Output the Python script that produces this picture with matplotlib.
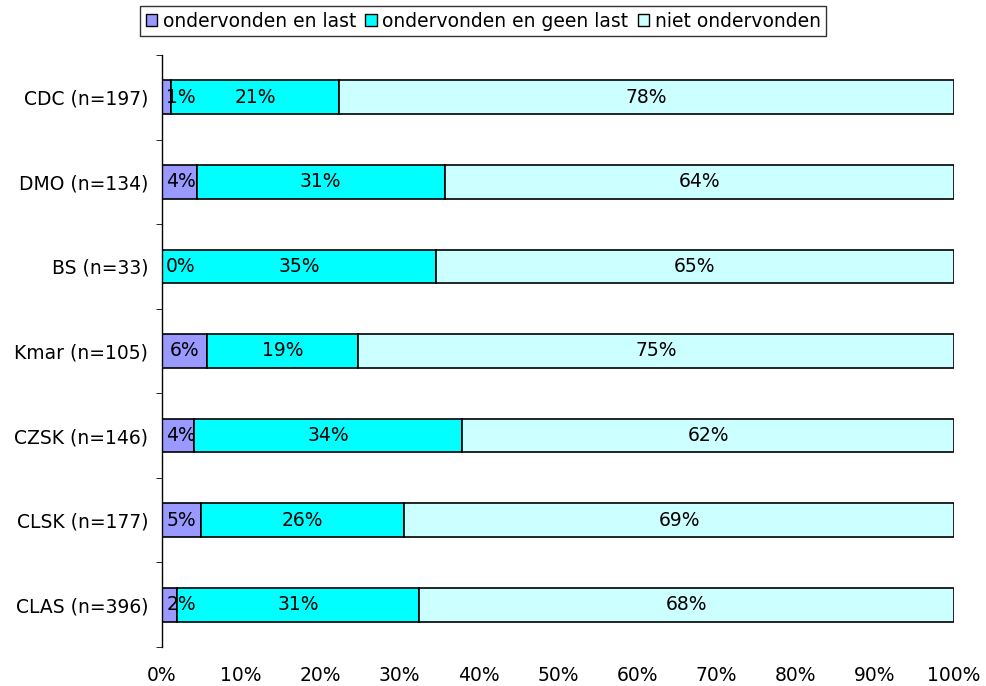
import matplotlib.pyplot as plt
from matplotlib.patches import Patch

# data (percentages per group, top to bottom as in the picture)
groups = ['CDC (n=197)', 'DMO (n=134)', 'BS (n=33)', 'Kmar (n=105)',
          'CZSK (n=146)', 'CLSK (n=177)', 'CLAS (n=396)']
last = [1.1, 4.4, 0.0, 5.7, 4.0, 4.9, 1.9]
geen_last = [21.3, 31.3, 34.6, 19.0, 33.9, 25.7, 30.6]
niet = [77.6, 64.3, 65.4, 75.3, 62.1, 69.4, 67.5]
series_names = ['ondervonden en last', 'ondervonden en geen last', 'niet ondervonden']
colors = ['#9999FF', '#00FFFF', '#CCFFFF']
xticks = list(range(0, 101, 10))

fs = 13.5
plt.rcParams['font.family'] = 'DejaVu Sans'
fig = plt.figure(figsize=(9.86, 6.86), dpi=100)
ax = fig.add_axes([0.1643, 0.0569, 0.8032, 0.8629])

ypos = list(range(len(groups)))[::-1]
left = [0.0] * len(groups)
for vals, col in zip([last, geen_last, niet], colors):
    ax.barh(ypos, vals, left=left, height=0.4, color=col,
            edgecolor='black', linewidth=1.2)
    for y, l, v in zip(ypos, left, vals):
        # small labels are kept inside the plot area like in the original
        xc = max(l + v / 2, 2.4)
        ax.text(xc, y, f'{v:.0f}%', ha='center', va='center', fontsize=fs)
    left = [a + b for a, b in zip(left, vals)]

ax.set_xlim(0, 100)
ax.set_ylim(-0.5, len(groups) - 0.5)
ax.set_xticks(xticks)
ax.set_xticklabels([f'{t}%' for t in xticks], fontsize=fs)
ax.set_yticks(ypos)
ax.set_yticklabels(groups, fontsize=fs)
ax.set_yticks([i - 0.5 for i in range(len(groups) + 1)], minor=True)
ax.tick_params(axis='y', which='major', length=0, pad=10)
ax.tick_params(axis='y', which='minor', length=4, direction='out')
ax.tick_params(axis='x', length=0, pad=14)
for s in ['top', 'right', 'bottom']:
    ax.spines[s].set_visible(False)
ax.spines['left'].set_linewidth(1.0)

handles = [Patch(facecolor=c, edgecolor='black', linewidth=1.0) for c in colors]
leg = fig.legend(handles, series_names, loc='center', bbox_to_anchor=(0.49, 0.969),
                 ncol=3, fontsize=fs, frameon=True, fancybox=False,
                 handlelength=0.6, handleheight=0.6, handletextpad=0.3,
                 columnspacing=0.5, borderpad=0.3, borderaxespad=0)
leg.get_frame().set_edgecolor('black')
leg.get_frame().set_linewidth(1.0)

fig.savefig('out.png', dpi=100)
